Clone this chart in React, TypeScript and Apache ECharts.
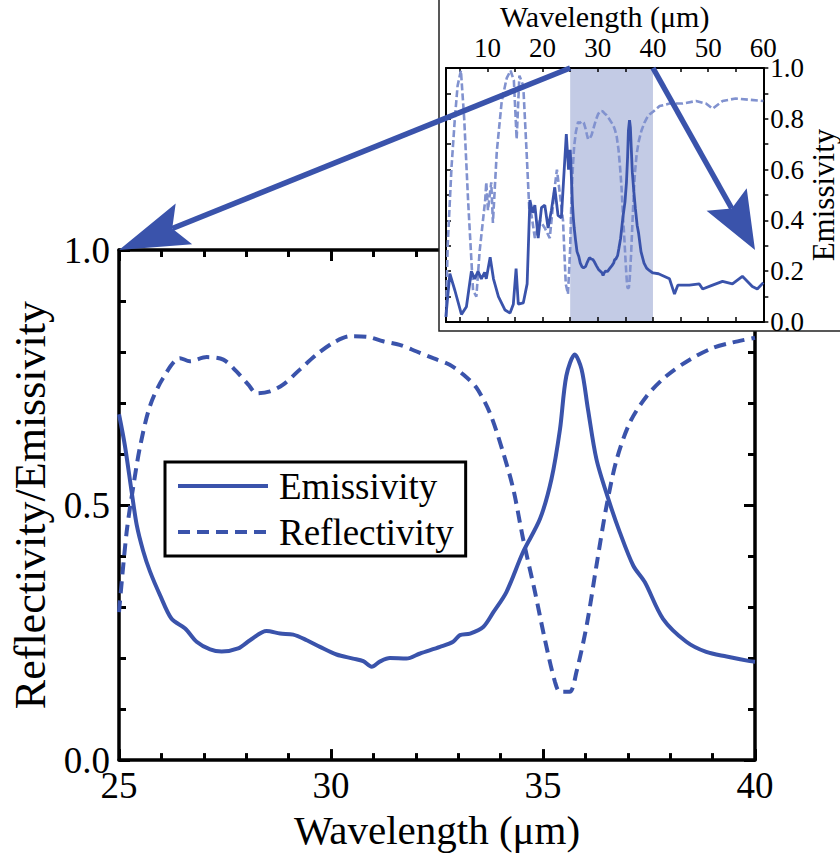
import React, { useEffect, useRef } from "react";
import * as echarts from "echarts";

const FONT = "Liberation Serif";
const BLUE = "#3a53ab";
const LIGHT = "#8192cf";
const SHADE = "#c3cbe5";

// Main panel (25–40 µm)
const emisWl = [25.0, 25.14, 25.3, 25.42, 25.57, 25.73, 25.97, 26.24, 26.56, 26.83, 27.15, 27.42, 27.81, 28.09, 28.48, 28.8, 29.11, 29.43, 29.74, 30.13, 30.52, 30.76, 30.96, 31.15, 31.39, 31.78, 32.1, 32.57, 32.88, 33.04, 33.28, 33.59, 33.83, 34.14, 34.53, 34.93, 35.2, 35.4, 35.55, 35.75, 35.91, 36.06, 36.26, 36.54, 36.81, 37.13, 37.4, 37.83, 38.38, 38.85, 39.33, 39.88, 40.0];
const emisVal = [0.678, 0.616, 0.525, 0.46, 0.41, 0.37, 0.323, 0.277, 0.258, 0.232, 0.217, 0.213, 0.219, 0.235, 0.253, 0.248, 0.246, 0.235, 0.222, 0.207, 0.199, 0.194, 0.183, 0.193, 0.2, 0.199, 0.209, 0.222, 0.232, 0.245, 0.248, 0.261, 0.29, 0.33, 0.408, 0.473, 0.551, 0.648, 0.753, 0.795, 0.766, 0.688, 0.59, 0.512, 0.447, 0.381, 0.349, 0.277, 0.232, 0.212, 0.203, 0.194, 0.193];

const reflWl = [25.0, 25.18, 25.34, 25.5, 25.73, 26.04, 26.44, 26.67, 27.07, 27.46, 27.77, 28.05, 28.25, 28.56, 28.87, 29.27, 29.66, 30.05, 30.45, 30.84, 31.23, 31.62, 32.02, 32.41, 32.8, 33.12, 33.43, 33.75, 34.06, 34.3, 34.53, 34.81, 35.04, 35.28, 35.4, 35.63, 35.79, 36.03, 36.26, 36.5, 36.74, 37.05, 37.44, 37.91, 38.46, 39.01, 39.48, 40.0];
const reflVal = [0.29, 0.447, 0.538, 0.616, 0.694, 0.749, 0.788, 0.782, 0.79, 0.785, 0.762, 0.736, 0.719, 0.723, 0.736, 0.766, 0.795, 0.818, 0.831, 0.83, 0.821, 0.814, 0.801, 0.788, 0.775, 0.756, 0.73, 0.68, 0.603, 0.531, 0.434, 0.33, 0.238, 0.154, 0.134, 0.134, 0.173, 0.264, 0.381, 0.499, 0.59, 0.662, 0.713, 0.753, 0.785, 0.808, 0.819, 0.828];

// Inset (2.5–60 µm): parts outside the 25–40 window
const insEmisLowWl = [2.5, 2.6, 3.2, 4.1, 5.3, 6.2, 7.1, 7.7, 8.3, 8.9, 9.5, 9.8, 10.5, 11.1, 12.0, 13.2, 14.1, 14.7, 15.2, 15.6, 16.5, 17.2, 17.7, 18.2, 18.6, 19.2, 19.8, 20.4, 21.0, 21.6, 22.2, 22.8, 23.4, 24.3, 24.7];
const insEmisLowVal = [0.02, 0.05, 0.19, 0.125, 0.03, 0.06, 0.2, 0.17, 0.2, 0.17, 0.195, 0.17, 0.255, 0.17, 0.1, 0.047, 0.035, 0.07, 0.21, 0.07, 0.075, 0.15, 0.48, 0.43, 0.46, 0.33, 0.45, 0.46, 0.37, 0.44, 0.53, 0.42, 0.41, 0.74, 0.6];
const insEmisHighWl = [41.0, 42.0, 43.0, 43.9, 44.5, 46.6, 48.4, 49.0, 50.8, 52.6, 54.4, 56.2, 58.0, 58.9, 60.0];
const insEmisHighVal = [0.19, 0.18, 0.17, 0.11, 0.145, 0.145, 0.15, 0.13, 0.145, 0.16, 0.15, 0.18, 0.14, 0.13, 0.155];

const insReflLowWl = [2.5, 2.8, 3.5, 4.1, 4.6, 5.2, 5.8, 6.5, 7.4, 8.0, 8.6, 9.6, 9.8, 10.1, 10.7, 11.0, 11.7, 12.6, 13.5, 14.2, 14.8, 15.3, 15.8, 16.5, 17.1, 17.6, 18.0, 18.6, 19.5, 20.4, 21.3, 22.2, 22.6, 23.1, 23.7, 24.2, 24.6];
const insReflLowVal = [0.02, 0.3, 0.61, 0.8, 0.93, 0.99, 0.8, 0.48, 0.125, 0.1, 0.28, 0.48, 0.55, 0.44, 0.55, 0.39, 0.67, 0.87, 0.96, 0.99, 0.95, 0.72, 0.97, 0.93, 0.67, 0.44, 0.42, 0.33, 0.4, 0.37, 0.33, 0.53, 0.6, 0.51, 0.4, 0.15, 0.11];
const insReflHighWl = [41.2, 43.0, 45.4, 47.8, 49.6, 50.8, 52.6, 55.0, 57.4, 60.0];
const insReflHighVal = [0.85, 0.86, 0.86, 0.87, 0.86, 0.84, 0.87, 0.88, 0.875, 0.87];

const insetTickValues = [5, 10, 15, 20, 25, 30, 35, 40, 45, 50, 55, 60];
const insetLabelValues = [10, 20, 30, 40, 50, 60];
const windowRange = [25, 40];

const zip = (xs: number[], ys: number[]) => xs.slice(0, Math.min(xs.length, ys.length)).map((x, i) => [x, ys[i]]);

function arrow(start: number[], end: number[], headLen: number, halfW: number) {
  const dx = end[0] - start[0];
  const dy = end[1] - start[1];
  const len = Math.hypot(dx, dy);
  const ux = dx / len, uy = dy / len;
  const nx = -uy, ny = ux;
  const bx = end[0] - ux * headLen, by = end[1] - uy * headLen;
  const notchX = end[0] - ux * headLen * 0.82, notchY = end[1] - uy * headLen * 0.82;
  return [
    {
      type: "line", z: 40,
      shape: { x1: start[0], y1: start[1], x2: notchX, y2: notchY },
      style: { stroke: BLUE, lineWidth: 5.5 },
    },
    {
      type: "polygon", z: 41,
      shape: { points: [[end[0], end[1]], [bx + nx * halfW, by + ny * halfW], [notchX, notchY], [bx - nx * halfW, by - ny * halfW]] },
      style: { fill: BLUE },
    },
  ];
}

function txt(size: number, extra: any = {}) {
  return { fontFamily: FONT, fontSize: size, color: "#000", fontWeight: "normal", ...extra };
}

export default function App() {
  const ref = useRef<HTMLDivElement>(null);
  useEffect(() => {
    if (!ref.current) return;
    const chart = echarts.init(ref.current, null, { renderer: "svg" });
    const black = "#000";
    const mainTick = { show: true, inside: true, length: 11, lineStyle: { color: black, width: 3 } };
    const mainMinor = { show: true, splitNumber: 5, length: 7, lineStyle: { color: black, width: 3 } };
    const insetLine = { show: true, onZero: false, lineStyle: { color: black, width: 2 } };
    const option: any = {
      animation: false,
      backgroundColor: "#fff",
      textStyle: { fontFamily: FONT },
      grid: [
        { left: 119, top: 250, width: 636, height: 512 },
        { left: 446, top: 66, width: 318, height: 256, z: 20 },
      ],
      legend: {
        data: ["Emissivity", "Reflectivity"],
        orient: "vertical",
        left: 165,
        top: 462,
        padding: [4, 12, 4, 11],
        itemWidth: 90,
        itemHeight: 20,
        itemGap: 6,
        borderColor: black,
        borderWidth: 3,
        backgroundColor: "#fff",
        itemStyle: { opacity: 0 },
        lineStyle: { width: 4 },
        textStyle: txt(37, { lineHeight: 40, padding: [0, 0, 0, 6] }),
      },
      xAxis: [
        {
          gridIndex: 0, type: "value", min: 25, max: 40, interval: 5, position: "bottom",
          axisLine: { show: true, onZero: false, lineStyle: { color: black, width: 3.5 } },
          axisTick: mainTick, minorTick: mainMinor, splitLine: { show: false },
          axisLabel: txt(37, { margin: 7 }),
          name: "Wavelength (μm)", nameLocation: "middle", nameGap: 46,
          nameTextStyle: txt(41),
        },
        {
          gridIndex: 0, type: "value", min: 25, max: 40, interval: 5, position: "top",
          axisLine: { show: true, onZero: false, lineStyle: { color: black, width: 3.5 } },
          axisTick: mainTick, minorTick: mainMinor, splitLine: { show: false }, axisLabel: { show: false },
        },
        {
          gridIndex: 1, type: "value", min: 2.5, max: 60, position: "bottom", z: 20,
          axisLine: insetLine,
          axisTick: { show: true, inside: true, length: 5, customValues: insetTickValues, lineStyle: { color: black, width: 1.5 } },
          axisLabel: { show: false }, splitLine: { show: false },
        },
        {
          gridIndex: 1, type: "value", min: 2.5, max: 60, position: "top", z: 20,
          axisLine: insetLine,
          axisTick: { show: true, inside: true, length: 4, customValues: insetTickValues, lineStyle: { color: black, width: 1.5 } },
          axisLabel: { show: true, customValues: insetLabelValues, margin: 7, ...txt(27) },
          splitLine: { show: false },
          name: "Wavelength (μm)", nameLocation: "middle", nameGap: 37,
          nameTextStyle: txt(30),
        },
      ],
      yAxis: [
        {
          gridIndex: 0, type: "value", min: 0, max: 1, interval: 0.5, position: "left",
          axisLine: { show: true, onZero: false, lineStyle: { color: black, width: 3.5 } },
          axisTick: mainTick, minorTick: mainMinor, splitLine: { show: false },
          axisLabel: { margin: 9, formatter: (v: number) => v.toFixed(1), ...txt(37) },
          name: "Reflectivity/Emissivity", nameLocation: "middle", nameGap: 60, nameRotate: 90,
          nameTextStyle: txt(44),
        },
        {
          gridIndex: 0, type: "value", min: 0, max: 1, interval: 0.5, position: "right",
          axisLine: { show: true, onZero: false, lineStyle: { color: black, width: 3.5 } },
          axisTick: mainTick, minorTick: mainMinor, splitLine: { show: false }, axisLabel: { show: false },
        },
        {
          gridIndex: 1, type: "value", min: 0, max: 1, interval: 0.2, position: "left", z: 20,
          axisLine: insetLine,
          axisTick: { show: true, inside: true, length: 5, lineStyle: { color: black, width: 1.5 } },
          minorTick: { show: true, splitNumber: 2, length: 5, lineStyle: { color: black, width: 1.5 } },
          axisLabel: { show: false }, splitLine: { show: false },
        },
        {
          gridIndex: 1, type: "value", min: 0, max: 1, interval: 0.2, position: "right", z: 20,
          axisLine: insetLine,
          axisTick: { show: true, inside: false, length: 5, lineStyle: { color: black, width: 1.5 } },
          minorTick: { show: true, splitNumber: 2, length: 5, lineStyle: { color: black, width: 1.5 } },
          axisLabel: { margin: 7, formatter: (v: number) => v.toFixed(1), ...txt(27) },
          splitLine: { show: false },
          name: "Emissivity", nameLocation: "middle", nameGap: 43, nameRotate: 90,
          nameTextStyle: txt(31),
        },
      ],
      series: [
        {
          name: "Emissivity", type: "line", xAxisIndex: 0, yAxisIndex: 0,
          data: zip(emisWl, emisVal), showSymbol: false, symbol: "none", smooth: 0.3,
          lineStyle: { color: BLUE, width: 4 }, itemStyle: { color: BLUE },
        },
        {
          name: "Reflectivity", type: "line", xAxisIndex: 0, yAxisIndex: 0,
          data: zip(reflWl, reflVal), showSymbol: false, symbol: "none", smooth: 0.3,
          lineStyle: { color: BLUE, width: 4, type: [12, 7] }, itemStyle: { color: BLUE },
        },
        {
          name: "Reflectivity (full)", type: "line", xAxisIndex: 2, yAxisIndex: 2, z: 21,
          data: [...zip(insReflLowWl, insReflLowVal), ...zip(reflWl, reflVal), ...zip(insReflHighWl, insReflHighVal)],
          showSymbol: false, symbol: "none",
          lineStyle: { color: LIGHT, width: 2.6, type: [7, 3] },
          markArea: {
            silent: true,
            z: 19,
            itemStyle: { color: SHADE, opacity: 1 },
            data: [[{ xAxis: windowRange[0] }, { xAxis: windowRange[1] }]],
          },
        },
        {
          name: "Emissivity (full)", type: "line", xAxisIndex: 2, yAxisIndex: 2, z: 22,
          data: [...zip(insEmisLowWl, insEmisLowVal), ...zip(emisWl, emisVal), ...zip(insEmisHighWl, insEmisHighVal)],
          showSymbol: false, symbol: "none",
          lineStyle: { color: BLUE, width: 2.8 },
        },
      ],
    };
    chart.setOption(option);

    const a1s = chart.convertToPixel({ xAxisIndex: 2, yAxisIndex: 2 }, [windowRange[0], 1]) as number[];
    const a1e = chart.convertToPixel({ xAxisIndex: 0, yAxisIndex: 0 }, [windowRange[0], 1]) as number[];
    const a2s = chart.convertToPixel({ xAxisIndex: 2, yAxisIndex: 2 }, [windowRange[1], 1]) as number[];
    const a2e = chart.convertToPixel({ xAxisIndex: 0, yAxisIndex: 0 }, [windowRange[1], 1]) as number[];

    chart.setOption({
      graphic: {
        elements: [
          {
            type: "rect", z: 15, silent: true,
            shape: { x: 439, y: -3, width: 410, height: 334 },
            style: { fill: "#fff", stroke: "#222", lineWidth: 1.5 },
          },
          ...arrow(a1s, a1e, 70, 22),
          ...arrow(a2s, a2e, 58, 23),
        ],
      },
    });

    return () => chart.dispose();
  }, []);
  return <div ref={ref} style={{ position: "fixed", left: 0, top: 0, width: 840, height: 855 }} />;
}
